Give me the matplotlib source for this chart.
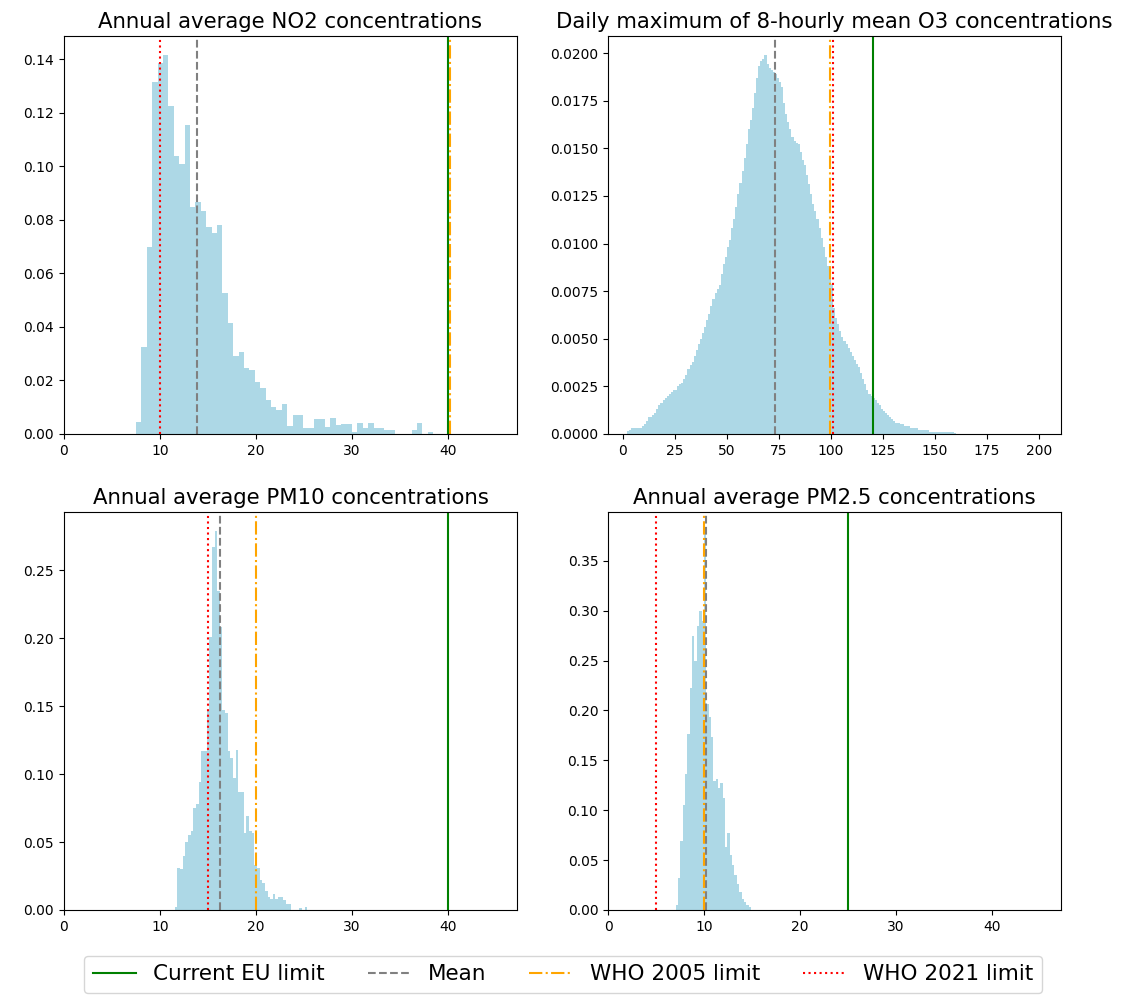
import numpy as np
import matplotlib.pyplot as plt

# ---- DATA (histogram densities) ----
# NO2 annual average: bins start at 7.5, width 0.563
NO2_START, NO2_WIDTH = 7.5, 0.563
no2_density = [0.0044, 0.0326, 0.0700, 0.1315, 0.1387, 0.1416, 0.1227, 0.1040, 0.1010, 0.1155,
               0.0847, 0.0866, 0.0832, 0.0773, 0.0750, 0.0780, 0.0526, 0.0414, 0.0293, 0.0308,
               0.0247, 0.0240, 0.0196, 0.0172, 0.0127, 0.0100, 0.0091, 0.0112, 0.0031, 0.0072,
               0.0072, 0.0021, 0.0021, 0.0055, 0.0055, 0.0027, 0.0061, 0.0033, 0.0036, 0.0036,
               0.0009, 0.0042, 0.0021, 0.0042, 0.0021, 0.0021, 0.0013, 0.0013, 0.0, 0.0,
               0.0, 0.0013, 0.0042, 0.0, 0.0006]

# O3 daily max 8h mean: bins start at 2, width 1
O3_START, O3_WIDTH = 2.0, 1.0
o3_density = [0.00014, 0.0002, 0.0003, 0.0003, 0.0003, 0.0003, 0.0003, 0.0004,
              0.0005, 0.0007, 0.0009, 0.0009, 0.0010, 0.0011, 0.0013, 0.0015, 0.0016, 0.0018,
              0.0019, 0.0020, 0.0021, 0.0022, 0.0023, 0.0023, 0.0025, 0.0026, 0.0027, 0.0029,
              0.0031, 0.0034, 0.0036, 0.0038, 0.0041, 0.0044, 0.0047, 0.0050, 0.0053, 0.0056,
              0.0060, 0.0063, 0.0067, 0.0071, 0.0074, 0.0076, 0.0078, 0.0084, 0.0089, 0.0093,
              0.0098, 0.0102, 0.0108, 0.0113, 0.0119, 0.0126, 0.0132, 0.0138, 0.0145, 0.0152,
              0.0160, 0.0165, 0.0171, 0.0179, 0.0187, 0.0193, 0.0196, 0.0197, 0.0199, 0.0194,
              0.0192, 0.0191, 0.0190, 0.0189, 0.0187, 0.0185, 0.0182, 0.0174, 0.0168, 0.0164,
              0.0160, 0.0156, 0.0154, 0.0153, 0.0152, 0.0148, 0.0144, 0.0141, 0.0136, 0.0131,
              0.0126, 0.0121, 0.0117, 0.0113, 0.0108, 0.0103, 0.0098, 0.0093, 0.0088, 0.0083,
              0.0079, 0.0066, 0.0061, 0.0058, 0.0054, 0.0051, 0.0049, 0.0047, 0.0045, 0.0043,
              0.0041, 0.0039, 0.0037, 0.0035, 0.0032, 0.0029, 0.0026, 0.0023, 0.0021, 0.0020,
              0.0019, 0.0018, 0.0016, 0.0015, 0.0013, 0.0012, 0.0011, 0.0010, 0.0009, 0.0008,
              0.0007, 0.0006, 0.0006, 0.0005, 0.0005, 0.0004, 0.0004, 0.0004, 0.0003, 0.0003,
              0.0003, 0.0003, 0.0002, 0.0002, 0.0002, 0.0002, 0.0002, 0.0001, 0.0001, 0.0001,
              0.0001, 0.0001, 0.0001, 0.0001, 0.0001, 0.0001, 0.0001, 0.0001, 0.0001, 0.00005]

# PM10 annual average: bins start at 11.55, width 0.276
PM10_START, PM10_WIDTH = 11.55, 0.276
pm10_density = [0.0025, 0.031, 0.030, 0.040, 0.050, 0.055, 0.058, 0.075, 0.078, 0.094,
                0.117, 0.117, 0.147, 0.201, 0.267, 0.279, 0.235, 0.208, 0.147, 0.145,
                0.117, 0.112, 0.097, 0.118, 0.087, 0.087, 0.057, 0.069, 0.058, 0.057,
                0.033, 0.031, 0.022, 0.020, 0.0137, 0.0098, 0.0078, 0.0118, 0.0078, 0.0093,
                0.0093, 0.0070, 0.0044, 0.0044, 0.0, 0.0, 0.0, 0.0015, 0.0, 0.0025]

# PM2.5 annual average: bins start at 7.05, width 0.245
# (the tallest bin sits behind the WHO 2005 / mean lines)
PM25_START, PM25_WIDTH = 7.05, 0.245
pm25_density = [0.005, 0.032, 0.069, 0.105, 0.136, 0.176, 0.223, 0.275, 0.250, 0.285,
                0.300, 0.290, 0.380, 0.206, 0.193, 0.173, 0.129, 0.131, 0.122, 0.127,
                0.112, 0.0635, 0.077, 0.055, 0.045, 0.035, 0.0265, 0.018, 0.0114, 0.008,
                0.0047, 0.003]

titles = ["Annual average NO2 concentrations",
          "Daily maximum of 8-hourly mean O3 concentrations",
          "Annual average PM10 concentrations",
          "Annual average PM2.5 concentrations"]
eu_limit = [40, 120, 40, 25]
means = [13.9, 72.9, 16.3, 10.2]
who_2005 = [40.2, 99.5, 20, 10]   # NO2 line sits just right of the EU line
who_2021 = [10, 101, 15, 5]
x_limits = [(0, 47.2), (-7.2, 210.6), (0, 47.2), (0, 47.2)]

hists = [(NO2_START, NO2_WIDTH, no2_density),
         (O3_START, O3_WIDTH, o3_density),
         (PM10_START, PM10_WIDTH, pm10_density),
         (PM25_START, PM25_WIDTH, pm25_density)]

# ---- PLOT ----
fig, axes = plt.subplots(2, 2, figsize=(11.26, 9.97), dpi=100)
fig.subplots_adjust(left=0.0568, right=0.9423, bottom=0.0873, top=0.9639,
                    wspace=0.201, hspace=0.196)

for i, ax in enumerate(axes.flat):
    start, width, dens = hists[i]
    edges = start + width * np.arange(len(dens) + 1)
    ax.stairs(dens, edges, fill=True, color="lightblue")
    l1 = ax.axvline(eu_limit[i], color="green", linestyle="-", label="Current EU limit")
    l2 = ax.axvline(means[i], color="gray", linestyle="--", label="Mean")
    l3 = ax.axvline(who_2005[i], color="orange", linestyle="-.", label="WHO 2005 limit")
    l4 = ax.axvline(who_2021[i], color="red", linestyle=":", label="WHO 2021 limit")
    ax.set_xlim(*x_limits[i])
    ax.set_ylim(0, max(dens) * 1.05)
    ax.set_title(titles[i], fontsize=15.3)
    ax.tick_params(labelsize=10)

fig.legend(handles=[l1, l2, l3, l4], loc="lower center", ncol=4, fontsize=15.5,
           bbox_to_anchor=(0.5, 0.004), borderaxespad=0)

fig.savefig("out.png", dpi=100)
